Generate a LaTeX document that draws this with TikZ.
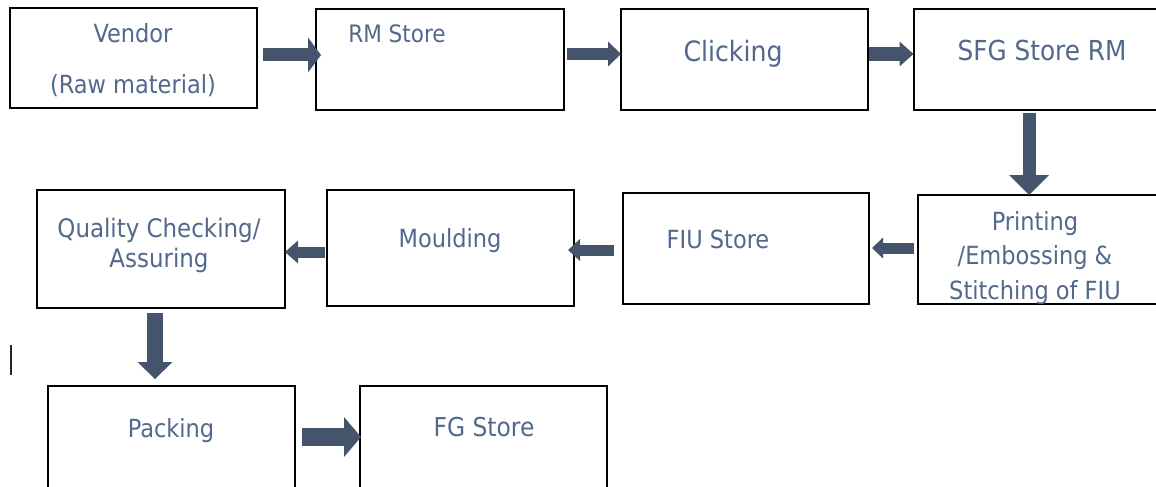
\documentclass[tikz,border=0pt]{standalone}
\usepackage{fontspec}
\setmainfont{DejaVu Sans Condensed}
\usetikzlibrary{arrows.meta}
\definecolor{navy}{HTML}{44546A}
\definecolor{labelblue}{HTML}{52688C}

\begin{document}
\begin{tikzpicture}[x=1pt,y=-1pt,
  box/.style={draw=black, line width=1.2pt, rectangle, inner sep=0pt,
              outer sep=0pt, anchor=north west},
  lbl/.style={text=labelblue, inner sep=0pt, anchor=base, align=center},
  barrow/.style n args={3}{draw=navy, line width=#1,
              -{Triangle[width=#2, length=#3, line width=0pt]}}
]
\useasboundingbox (0,0) rectangle (1156,487);
\clip (0,0) rectangle (1156,487);
\fill[white] (0,0) rectangle (1156,487);

% process boxes
\node[box, minimum width=247pt, minimum height=100pt] (V)  at (10,8)   {};
\node[box, minimum width=248pt, minimum height=101pt] (RM) at (316,9)  {};
\node[box, minimum width=247pt, minimum height=101pt] (C)  at (621,9)  {};
\node[box, minimum width=256pt, minimum height=101pt] (S)  at (914,9)  {};
\node[box, minimum width=252pt, minimum height=109pt] (Pr) at (918,195) {};
\node[box, minimum width=246pt, minimum height=111pt] (F)  at (623,193) {};
\node[box, minimum width=247pt, minimum height=116pt] (M)  at (327,190) {};
\node[box, minimum width=248pt, minimum height=118pt] (Q)  at (37,190)  {};
\node[box, minimum width=247pt, minimum height=120pt] (Pa) at (48,386)  {};
\node[box, minimum width=247pt, minimum height=120pt] (FG) at (360,386) {};

% labels (multi-line labels sit on the baseline of their last line)
\node[lbl, font=\fontsize{25}{51}\selectfont] (tV) at (133,93) {Vendor\\(Raw material)};
\node[lbl, font=\fontsize{24}{30}\selectfont] (tRM) at (397,43) {RM Store};
\node[lbl, font=\fontsize{28}{34}\selectfont] (tC) at (733,62) {Clicking};
\node[lbl, font=\fontsize{27.5}{34}\selectfont] (tS) at (1042,60) {SFG Store RM};
\begin{scope}
  \clip (Pr.north west) rectangle ([yshift=0.6pt]Pr.south east);
  \node[lbl, font=\fontsize{25}{34.5}\selectfont] (tPr) at (1035,299)
    {Printing\\/Embossing \&\\Stitching of FIU};
\end{scope}
\node[lbl, font=\fontsize{25}{30}\selectfont] (tF) at (718,248) {FIU Store};
\node[lbl, font=\fontsize{25}{30}\selectfont] (tM) at (450,247) {Moulding};
\node[lbl, font=\fontsize{25.5}{30}\selectfont] (tQ) at (159,267) {Quality Checking/\\Assuring};
\node[lbl, font=\fontsize{25}{30}\selectfont] (tPa) at (171,437) {Packing};
\node[lbl, font=\fontsize{26}{30}\selectfont] (tFG) at (484,436) {FG Store};

% block arrows between the steps
\draw[barrow={13pt}{35pt}{13pt}, shorten >=1pt]
  ([xshift=6pt,yshift=3pt]V.east) -- ([xshift=6pt,yshift=3pt]V.east -| RM.west);
\draw[barrow={12pt}{25pt}{13pt}, shorten >=3pt]
  ([xshift=3pt,yshift=5.5pt]RM.east) -- ([xshift=3pt,yshift=5.5pt]RM.east -| C.west);
\draw[barrow={14pt}{25pt}{14pt}, shorten >=1pt]
  ([xshift=0.5pt,yshift=5.5pt]C.east) -- ([xshift=0.5pt,yshift=5.5pt]C.east -| S.west);
\draw[barrow={13pt}{40pt}{20pt}]
  ([xshift=-13pt,yshift=-3pt]S.south) -- ([xshift=-13pt]S.south |- Pr.north);
\draw[barrow={11pt}{21pt}{11pt}, shorten >=7pt]
  ([xshift=-4pt,yshift=1.5pt]Pr.west) -- ([xshift=-4pt,yshift=1.5pt]Pr.west -| F.east);
\draw[barrow={11pt}{22pt}{12pt}, shorten >=3pt]
  ([xshift=-9pt,yshift=-1.5pt]F.west) -- ([xshift=-9pt,yshift=-1.5pt]F.west -| M.east);
\draw[barrow={11pt}{23pt}{13pt}, shorten >=2pt]
  ([xshift=-2pt,yshift=-4pt]M.west) -- ([xshift=-2pt,yshift=-4pt]M.west -| Q.east);
\draw[barrow={16pt}{35pt}{17pt}, shorten >=7pt]
  ([xshift=-6pt,yshift=-5pt]Q.south) -- ([xshift=-6pt]Q.south |- Pa.north);
\draw[barrow={18pt}{40pt}{17pt}, shorten >=6pt]
  ([xshift=7pt,yshift=9pt]Pa.east) -- ([xshift=7pt,yshift=9pt]Pa.east -| FG.west);

% short stray stroke at the left margin
\draw[line width=1.3pt, black!85] (11,345) -- (11,375);
\end{tikzpicture}
\end{document}
